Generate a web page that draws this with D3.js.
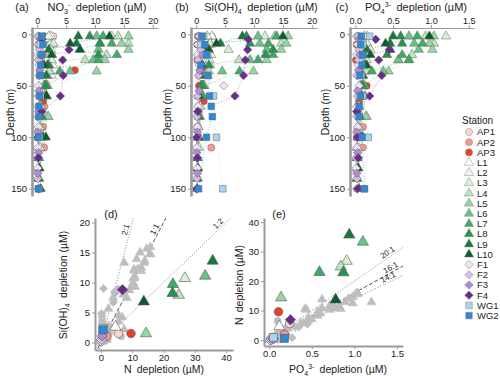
<!DOCTYPE html>
<html><head><meta charset="utf-8">
<script src="https://cdn.jsdelivr.net/npm/d3@7"></script>
<style>
body{margin:0;background:#fff}
svg text{font-family:"Liberation Sans",Arial,sans-serif;fill:#222}
</style></head>
<body><svg id="chart" width="500" height="377"></svg>
<script>
// Stations, their colours and marker shapes
const stations = ['AP1','AP2','AP3','L1','L2','L3','L4','L5','L6','L7','L8','L9','L10','F1','F2','F3','F4','WG1','WG2'];
const stationColors = ['#fcd4cd','#f4978c','#e8402d','#ffffff','#eef8ee','#d6f0d8','#b8e6c0','#93d8a2','#68c583','#3bae62','#249550','#157a3c','#0a5c2a','#ede5f3','#d4bde8','#b38ad6','#6b2a92','#aad3f0','#2a8ad8'];
const stationShapes = ['circle','circle','circle','triangle','triangle','triangle','triangle','triangle','triangle','triangle','triangle','triangle','triangle','diamond','diamond','diamond','diamond','square','square'];

// Profile samples per station: [depth (m), NO3 depl, Si(OH)4 depl, PO4 depl] (uM)
const profAP1 = [[2,2.8,2.7,0.15],[10,2.2,2.3,0.12],[20,2.5,2.0,0.12],[30,1.8,1.6,0.10],[50,1.2,1.0,0.08],[70,0.8,0.5,0.05],[90,0.5,0.3,0.04]];
const profAP2 = [[2,1.3,0.6,0.06],[20,1.0,0.8,0.08],[40,0.8,0.5,0.04],[70,1.2,0.4,0.03],[90,1.0,0.2,0.10],[110,1.2,2.6,0.10]];
const profAP3 = [[2,0.3,0.3,0.03],[10,0.2,0.2,0.02],[25,0.4,0.2,0.01],[35,6.5,1.0,0.10],[50,1.5,0.5,0.15],[65,1.0,1.3,0.05],[100,0.3,0.3,0.02]];
const profL1 = [[2,2.4,2.7,0.16],[10,2.6,2.5,0.14],[20,2.3,2.2,0.12],[30,2.7,2.4,0.14],[40,2.5,2.0,0.10],[50,1.4,1.3,0.08],[60,0.8,0.9,0.06],[75,0.6,0.4,0.04],[100,0.4,0.3,0.03],[120,0.3,0.2,0.03],[140,0.2,0.2,0.02]];
const profL2 = [[2,2.0,1.9,0.12],[10,2.2,2.2,0.15],[20,2.6,2.6,0.18],[30,2.1,2.0,0.13],[40,1.8,1.5,0.10],[50,1.2,1.2,0.06],[70,0.7,0.6,0.05],[90,0.5,0.4,0.04],[110,0.3,0.2,0.02],[140,0.3,0.3,0.03]];
const profL3 = [[2,12.9,11.9,1.20],[9,2.8,2.4,0.16],[15,2.4,5.6,0.20],[25,2.5,2.3,0.15],[36,2.2,2.0,0.12],[50,1.2,1.4,0.08],[70,0.6,0.7,0.05],[90,0.4,0.3,0.04],[110,0.5,0.5,0.03],[130,0.3,0.2,0.02]];
const profL4 = [[2,14.0,13.6,0.93],[9,15.8,14.7,1.04],[20,12.0,12.2,0.75],[25,8.3,7.4,0.57],[36,2.1,2.2,0.14],[50,1.2,1.0,0.08],[80,1.9,0.6,0.15],[120,0.3,0.3,0.03]];
const profL5 = [[2,15.8,15.9,1.04],[9,14.6,15.6,0.98],[15,15.8,14.7,1.02],[25,11.7,12.2,0.71],[36,10.3,9.9,0.44],[50,1.8,1.2,0.10],[80,1.9,0.6,0.14],[130,0.2,0.3,0.03]];
const profL6 = [[2,10.3,10.7,0.71],[9,10.8,11.0,0.78],[15,10.6,12.2,0.84],[25,9.7,9.3,0.57],[36,5.7,4.5,0.37],[50,1.6,1.0,0.12],[60,1.6,1.2,0.13],[100,0.5,0.4,0.05]];
const profL7 = [[2,11.4,13.9,0.82],[9,12.9,12.5,0.89],[20,13.8,13.3,0.62],[25,10.6,10.7,0.71],[36,3.9,7.5,0.22],[50,1.5,1.2,0.09],[60,1.3,1.0,0.08],[100,0.3,0.3,0.04]];
const profL8 = [[2,9.1,8.7,0.60],[9,10.9,9.3,0.62],[15,7.4,13.3,0.46],[20,10.6,12.0,0.42],[30,2.0,2.2,0.13],[50,1.4,0.9,0.10],[80,0.8,0.5,0.06],[100,1.0,0.5,0.08],[120,0.2,0.2,0.02]];
const profL9 = [[2,7.1,8.0,0.50],[9,6.8,4.2,0.46],[15,2.0,1.6,0.15],[30,1.8,1.0,0.12],[40,1.6,0.8,0.10],[60,1.6,0.6,0.08],[100,1.0,0.4,0.06],[140,0.3,0.2,0.02]];
const profL10 = [[2,12.5,15.0,0.98],[9,5.7,3.5,0.40],[15,7.4,2.2,0.46],[20,2.5,1.8,0.20],[30,1.2,1.0,0.15],[60,1.6,0.5,0.08],[100,1.5,0.4,0.10],[130,0.4,0.3,0.04],[150,0.6,0.2,0.05]];
const profF1 = [[2,0.1,0.4,0.02],[10,0.2,0.3,0.03],[20,0.1,0.2,0.02],[30,0.3,0.5,0.04],[50,0.2,4.8,0.05],[70,0.1,0.3,0.02],[90,0.2,0.2,0.03],[110,0.1,0.1,0.02],[130,0.1,0.2,0.01],[150,0.2,0.1,0.02]];
const profF2 = [[2,0.3,0.5,0.03],[15,0.4,0.8,0.05],[25,0.2,0.3,0.04],[40,0.3,0.4,0.02],[60,0.2,0.2,0.03],[80,0.1,0.1,0.02],[100,0.2,0.3,0.03],[120,0.1,0.2,0.01],[140,0.1,0.1,0.02]];
const profF3 = [[5,0.5,0.9,0.05],[20,0.6,1.1,0.06],[35,0.4,0.6,0.04],[55,0.3,0.5,0.03],[75,0.2,0.3,0.02],[95,0.1,0.2,0.02],[115,0.2,0.1,0.03],[135,0.1,0.2,0.02]];
const profF4 = [[5,0.8,9.0,0.27],[15,5.5,8.9,0.45],[25,4.4,8.5,0.31],[40,4.5,8.2,0.35],[60,4.0,6.7,0.19],[75,0.8,0.3,0.02],[100,0.1,0.1,0.03],[120,0.2,0.2,0.04],[150,0.3,0.1,0.03]];
const profWG1 = [[2,0.8,1.3,0.19],[10,0.5,0.8,0.10],[20,0.7,2.0,0.10],[40,0.5,2.0,0.08],[60,0.6,3.0,0.10],[100,0.4,3.5,0.17],[150,0.3,4.6,0.12]];
const profWG2 = [[2,0.8,1.0,0.08],[10,1.0,1.5,0.07],[20,0.8,1.8,0.10],[30,0.6,0.8,0.09],[40,0.5,2.0,0.06],[60,0.4,2.3,0.07],[70,0.3,2.6,0.05],[80,0.3,2.8,0.05],[100,0.2,1.8,0.09],[150,0.2,0.4,0.12]];
const profiles = [profAP1,profAP2,profAP3,profL1,profL2,profL3,profL4,profL5,profL6,profL7,profL8,profL9,profL10,profF1,profF2,profF3,profF4,profWG1,profWG2];

// Station totals shown in colour in panels (d) and (e)
const sumStations = ['AP1','AP2','AP3','L1','L3','L4','L5','L6','L7','L8','L9','L10','F1','F2','F3','F4','WG1','WG2'];
const sumN  = [5.6, 1.9, 9.6, 4.6, 26.8, 24.9, 14.4, 33.3, 23.0, 22.9, 35.7, 13.7, 0.1, 0.2, 0.4, 6.9, 0.9, 0.6];
const sumSi = [1.5, 1.05, 1.5, 2.6, 10.7, 7.9, 1.5, 11.1, 9.7, 8.2, 13.6, 6.8, 0.2, 0.5, 1.1, 8.8, 2.3, 2.1];
const sumP  = [0.24, 0.18, 0.11, 0.12, 0.91, 0.84, 0.14, 1.10, 0.59, 0.87, 0.94, 0.78, 0.01, 0.03, 0.05, 0.25, 0.05, 0.18];

const depthTicks = [0, 50, 100, 150];
const no3Ticks = [0, 5, 10, 15, 20];
const siTicks = [0, 5, 10, 15, 20];
const po4Ticks = [0, 0.5, 1.0, 1.5];
const dTicksX = [0, 10, 20, 30, 40];
const dTicksY = [0, 5, 10, 15, 20];
const eTicksX = [0, 0.5, 1.0, 1.5];
const eTicksY = [0, 10, 20, 30, 40];
const dRatios = [2, 1, 0.5];
const dRatioLabels = ['2:1', '1:1', '1:2'];
const eRatios = [20, 16, 14];
const eRatioLabels = ['20:1', '16:1', '14:1'];

const svg = d3.select('#chart');
const AXIS = '#9a9a9a';
const TICKTXT = '#3a3a3a';

function symPath(shape) {
  if (shape === 'circle') return d3.symbol(d3.symbolCircle, 40)();
  if (shape === 'triangle') return d3.symbol(d3.symbolTriangle, 38)();
  if (shape === 'square') return d3.symbol(d3.symbolSquare, 44)();
  const r = 4.3;
  return `M0,${-r}L${r},0L0,${r}L${-r},0Z`;
}

function styleAxis(g, width) {
  g.select('.domain').attr('stroke', AXIS).attr('stroke-width', width);
  g.selectAll('.tick line').attr('stroke', AXIS);
  g.selectAll('.tick text').style('font-size', '9.5px').attr('fill', TICKTXT);
}

// title with a chemical formula: base, subscript, optional superscript, rest
function chemTitle(t, base, sub, sup) {
  t.append('tspan').text(base);
  t.append('tspan').attr('dy', 2.5).style('font-size', '7px').text(sub);
  if (sup) {
    t.append('tspan').attr('dy', -6.5).style('font-size', '7px').text(sup);
    t.append('tspan').attr('dy', 4).text('\u2002depletion (\u00b5M)');
  } else {
    t.append('tspan').attr('dy', -2.5).text('\u2002depletion (\u00b5M)');
  }
}

// ---------- depth profiles (a)-(c) ----------
const yDepth = d3.scaleLinear().domain([-7, 157]).range([27, 196]);
const TOP_AXIS_Y = 28;
const profPanels = [
  { tag: '(a)', col: 1, x: d3.scaleLinear().domain([-0.9, 20.9]).range([32, 158]), ticks: no3Ticks, fmt: d3.format('d'), tagX: 22, titleX: 97, ylabX: 10, chem: ['NO', '3', '-'] },
  { tag: '(b)', col: 2, x: d3.scaleLinear().domain([-0.9, 20.9]).range([191, 317]), ticks: siTicks, fmt: d3.format('d'), tagX: 182, titleX: 261, ylabX: 167, chem: ['Si(OH)', '4', null] },
  { tag: '(c)', col: 3, x: d3.scaleLinear().domain([-0.07, 1.57]).range([350, 474]), ticks: po4Ticks, fmt: d3.format('.1f'), tagX: 342, titleX: 416, ylabX: 325, chem: ['PO', '4', '3-'] }
];

profPanels.forEach(p => {
  const g = svg.append('g');

  // dotted profile lines
  const line = d3.line().x(r => p.x(r[p.col])).y(r => yDepth(r[0]));
  profiles.forEach((rows, si) => {
    const c = stationColors[si] === '#ffffff' ? '#cccccc' : stationColors[si];
    g.append('path').datum(rows.slice().sort((a, b) => a[0] - b[0]))
      .attr('d', line).attr('fill', 'none').attr('stroke', c)
      .attr('stroke-width', 0.8).attr('stroke-dasharray', '1.2,1.6').attr('opacity', 0.55);
  });
  profiles.forEach((rows, si) => {
    g.selectAll(null).data(rows).enter().append('path')
      .attr('d', symPath(stationShapes[si]))
      .attr('transform', r => `translate(${p.x(r[p.col])},${yDepth(r[0])})`)
      .attr('fill', stationColors[si]).attr('stroke', '#666').attr('stroke-width', 0.5);
  });

  const ax = g.append('g').attr('transform', `translate(0,${TOP_AXIS_Y})`)
    .call(d3.axisTop(p.x).tickValues(p.ticks).tickFormat(p.fmt).tickSize(3).tickSizeOuter(0).tickPadding(1));
  styleAxis(ax, 1.2);
  ax.selectAll('.tick text').style('font-size', '9px');
  const ay = g.append('g').attr('transform', `translate(${p.x.range()[0]},0)`)
    .call(d3.axisLeft(yDepth).tickValues(depthTicks).tickSize(3).tickSizeOuter(0).tickPadding(2));
  styleAxis(ay, 2.6);

  g.append('text').attr('x', p.tagX).attr('y', 11).attr('text-anchor', 'middle')
    .style('font-size', '11px').text(p.tag);
  chemTitle(g.append('text').attr('x', p.titleX).attr('y', 11).attr('text-anchor', 'middle').style('font-size', '11px'), ...p.chem);
  g.append('text').attr('transform', `translate(${p.ylabX},112) rotate(-90)`).attr('text-anchor', 'middle')
    .attr('dy', '0.35em').style('font-size', '10.5px').text('Depth (m)');
});

// ---------- scatter panels (d) and (e) ----------
function scatterPanel(cfg) {
  const g = svg.append('g');
  const x = cfg.x, y = cfg.y;
  const [x0, x1] = x.range(), [yb, yt] = y.range();
  const clipId = 'clip' + cfg.tag.replace(/\W/g, '');
  svg.append('clipPath').attr('id', clipId).append('rect')
    .attr('x', x0).attr('y', yt).attr('width', x1 - x0).attr('height', yb - yt);

  // ratio lines
  cfg.ratios.forEach((k, i) => {
    const xa = x.domain()[0], xb = x.domain()[1];
    g.append('line').attr('clip-path', `url(#${clipId})`)
      .attr('x1', x(xa)).attr('y1', y(xa * k)).attr('x2', x(xb)).attr('y2', y(xb * k))
      .attr('stroke', k === cfg.mid ? '#555' : '#9a9a9a').attr('stroke-width', 1)
      .attr('stroke-dasharray', k === cfg.mid ? '4,2' : '1.2,1.6');
    const lx = cfg.labelAt[i];
    const px = x(lx), py = y(lx * k);
    const ang = Math.atan2(y(k * (lx + 1)) - y(k * lx), x(lx + 1) - x(lx)) * 180 / Math.PI;
    g.append('text').attr('transform', `translate(${px},${py}) rotate(${ang})`)
      .attr('dy', -2).attr('text-anchor', 'middle').style('font-size', '8px').attr('fill', '#333')
      .text(cfg.ratioLabels[i]);
  });

  // all individual samples in grey
  profiles.forEach((rows, si) => {
    g.selectAll(null).data(rows).enter().append('path')
      .attr('d', symPath(stationShapes[si]))
      .attr('transform', r => `translate(${x(cfg.gx(r))},${y(cfg.gy(r))})`)
      .attr('fill', '#bdbdbd').attr('stroke', '#c4c4c4').attr('stroke-width', 0.4);
  });
  // station totals in colour
  sumStations.forEach((s, i) => {
    const si = stations.indexOf(s);
    g.append('path').attr('d', symPath(stationShapes[si]))
      .attr('transform', `translate(${x(cfg.sx[i])},${y(cfg.sy[i])}) scale(1.2)`)
      .attr('fill', stationColors[si]).attr('stroke', '#555').attr('stroke-width', 0.5);
  });

  const ax = g.append('g').attr('transform', `translate(0,${yb})`)
    .call(d3.axisBottom(x).tickValues(cfg.xt).tickFormat(cfg.xf).tickSize(3).tickSizeOuter(0).tickPadding(1));
  styleAxis(ax, 2);
  const ay = g.append('g').attr('transform', `translate(${x0},0)`)
    .call(d3.axisLeft(y).tickValues(cfg.yt).tickSize(3).tickSizeOuter(0).tickPadding(2));
  styleAxis(ay, 2);

  g.append('text').attr('x', cfg.tagX).attr('y', 218).attr('text-anchor', 'middle').style('font-size', '11px').text(cfg.tag);
  cfg.xTitle(g.append('text').attr('x', cfg.xTitleX).attr('y', 373).attr('text-anchor', 'middle').style('font-size', '10.5px'));
  cfg.yTitle(g.append('text').attr('transform', `translate(${cfg.yTitleX},285) rotate(-90)`).attr('text-anchor', 'middle').style('font-size', '10.5px'));
}

scatterPanel({
  tag: '(d)', tagX: 111,
  x: d3.scaleLinear().domain([-1.9, 42.2]).range([95, 233]),
  y: d3.scaleLinear().domain([-1.25, 20.75]).range([350, 218]),
  xt: dTicksX, yt: dTicksY, xf: d3.format('d'),
  ratios: dRatios, ratioLabels: dRatioLabels, mid: 1, labelAt: [9.3, 18.5, 38.5],
  gx: r => r[1], gy: r => r[2], sx: sumN, sy: sumSi,
  xTitleX: 164, yTitleX: 67,
  xTitle: t => t.text('N\u2002depletion (\u00b5M)'),
  yTitle: t => chemTitle(t, 'Si(OH)', '4', null)
});

scatterPanel({
  tag: '(e)', tagX: 279,
  x: d3.scaleLinear().domain([-0.06, 1.57]).range([264, 403]),
  y: d3.scaleLinear().domain([-2, 41.4]).range([346, 218]),
  xt: eTicksX, yt: eTicksY, xf: d3.format('.1f'),
  ratios: eRatios, ratioLabels: eRatioLabels, mid: 16, labelAt: [1.42, 1.45, 1.42],
  gx: r => r[3], gy: r => r[1], sx: sumP, sy: sumN,
  xTitleX: 338, yTitleX: 243,
  xTitle: t => chemTitle(t, 'PO', '4', '3-'),
  yTitle: t => t.text('N\u2002depletion (\u00b5M)')
});

// ---------- legend ----------
const lg = svg.append('g');
lg.append('text').attr('x', 462).attr('y', 124).style('font-size', '10px').text('Station');
stations.forEach((s, i) => {
  const cy = 132 + i * 10.2;
  lg.append('path').attr('d', symPath(stationShapes[i]))
    .attr('transform', `translate(469,${cy})`)
    .attr('fill', stationColors[i]).attr('stroke', '#888').attr('stroke-width', 0.5);
  lg.append('text').attr('x', 477).attr('y', cy).attr('dy', '0.35em').style('font-size', '9.5px').text(s);
});
</script></body></html>
